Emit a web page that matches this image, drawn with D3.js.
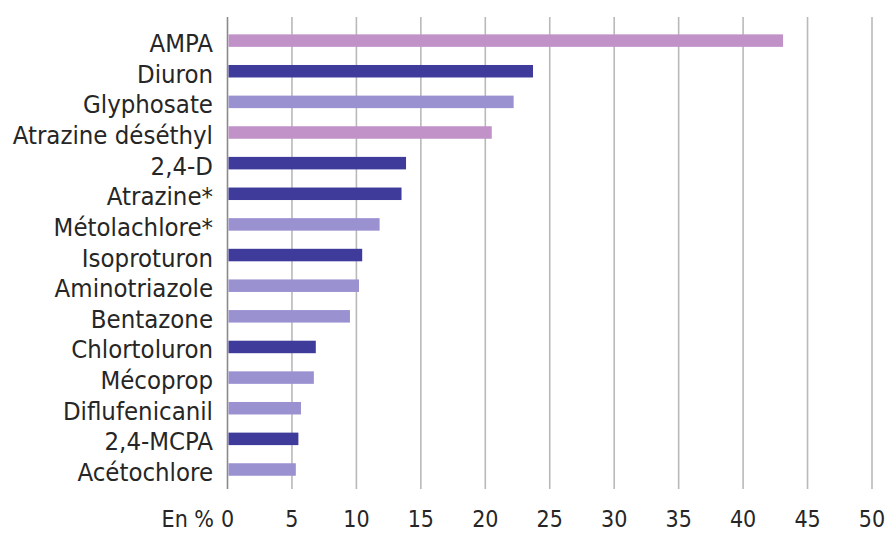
<!DOCTYPE html>
<html><head><meta charset="utf-8">
<script src="https://cdn.jsdelivr.net/npm/d3@7"></script>
<style>
body{margin:0;background:#fff;}
text{font-family:"DejaVu Sans Condensed","Liberation Sans Narrow",sans-serif;fill:#262626;}
</style></head>
<body><svg id="c" width="887" height="534"></svg>
<script>
const categories = ["AMPA","Diuron","Glyphosate","Atrazine déséthyl","2,4-D","Atrazine*","Métolachlore*","Isoproturon","Aminotriazole","Bentazone","Chlortoluron","Mécoprop","Diflufenicanil","2,4-MCPA","Acétochlore"];
const values = [43.1,23.7,22.2,20.5,13.85,13.5,11.8,10.45,10.2,9.5,6.85,6.7,5.7,5.5,5.3];
const groups = ["m","h","x","m","h","h","x","h","x","x","h","x","x","h","x"];
const groupColors = {m:"#c092c8", h:"#3f3b9b", x:"#9a91d0"};
const ticks = [0,5,10,15,20,25,30,35,40,45,50];
const axisPrefix = "En %";

const svg = d3.select("#c");
const x = d3.scaleLinear().domain([0,50]).range([227.5,872]);
const y = d3.scalePoint().domain(categories).range([40.6,469.5]);
const barH = 12.5;

// gridlines
svg.append("g").selectAll("line").data(ticks).join("line")
  .attr("x1",d=>x(d)).attr("x2",d=>x(d))
  .attr("y1",17).attr("y2",489)
  .attr("stroke",d=>d===0?"#8a8a8a":"#b9b9b9")
  .attr("stroke-width",1.6);

// bars
svg.append("g").selectAll("rect").data(categories).join("rect")
  .attr("x",x(0)+1).attr("y",d=>y(d)-barH/2)
  .attr("width",(d,i)=>x(values[i])-x(0)-1).attr("height",barH)
  .attr("fill",(d,i)=>groupColors[groups[i]]);

// category labels
svg.append("g").selectAll("text").data(categories).join("text")
  .attr("x",213).attr("y",d=>y(d)+11.5)
  .attr("text-anchor","end").attr("font-size",25.5)
  .text(d=>d);

// tick labels
svg.append("g").selectAll("text").data(ticks).join("text")
  .attr("x",d=>x(d)).attr("y",527)
  .attr("text-anchor","middle").attr("font-size",23)
  .text(d=>d);
svg.append("text").attr("x",214).attr("y",527)
  .attr("text-anchor","end").attr("font-size",23).text(axisPrefix);
</script></body></html>
